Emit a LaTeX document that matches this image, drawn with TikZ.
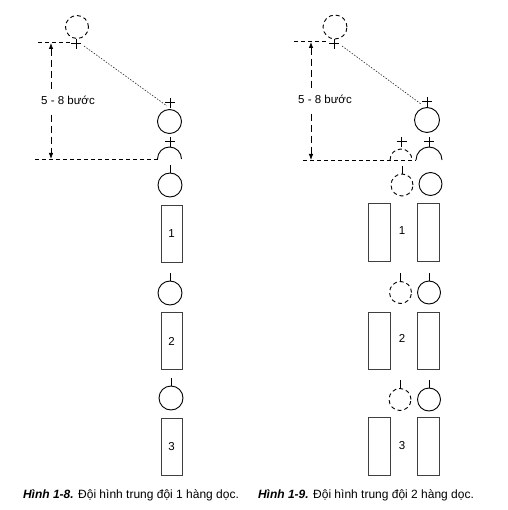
\documentclass[tikz,border=0pt]{standalone}
\usepackage{fontspec}
\setmainfont{Liberation Sans}
\usetikzlibrary{arrows.meta}
\begin{document}
\begin{tikzpicture}[x=1pt,y=-1pt,
  soldier/.style={circle,draw,line width=0.9pt,inner sep=0pt,minimum size=23pt},
  ghost/.style={soldier,dash pattern=on 4pt off 3pt},
  squad/.style={rectangle,draw=black!75,line width=0.8pt,minimum width=21pt,minimum height=57pt,inner sep=0pt,font=\fontsize{11.5}{13}\selectfont},
  guide/.style={line width=0.9pt,dash pattern=on 4pt off 3pt},
  dist/.style={line width=0.8pt,dash pattern=on 7pt off 4pt,{Latex[length=6pt,width=4.5pt]}-{Latex[length=6pt,width=4.5pt]}},
  sight/.style={line width=0.6pt,black!85,dash pattern=on 1.5pt off 1.5pt},
  stem/.style={line width=0.8pt},
  lbl/.style={fill=white,draw=none,inner xsep=1pt,inner ysep=7pt,font=\fontsize{11.5}{13}\selectfont},
  numtext/.style={font=\fontsize{11.5}{13}\selectfont},
  captext/.style={font=\fontsize{12}{14}\selectfont},
  crossm/.pic={\draw[line width=0.8pt] (-5,0)--(5,0) (0,-4)--(0,6);}
]
\useasboundingbox (0,0) rectangle (507,510);

% ---------- Figure 1-8 ----------
\node[ghost,minimum size=23pt] (La) at (77,27) {};
\pic at (76,43) {crossm};
\coordinate (Lga) at (38,42);
\coordinate (Lgb) at (71,42);
\draw[guide] (Lga) -- (Lgb);
\coordinate (Laa) at (51,43);
\coordinate (Lab) at (51,159);
\draw[dist] (Laa) -- (Lab);
\node[lbl] (Ltxt) at (68,100) {5 - 8 bước};
\coordinate (Lsa) at (84,46);
\coordinate (Lsb) at (167,106);
\draw[sight] (Lsa) -- (Lsb);
\node[soldier,minimum size=24pt] (L0) at (169.5,121.5) {};
\pic at (170,102) {crossm};
\pic at (170,141) {crossm};
\draw[line width=0.9pt] (157.5,159) arc[start angle=180,end angle=0,radius=12pt];
\coordinate (Lgc) at (35,159);
\coordinate (Lgd) at (157.5,159);
\draw[guide] (Lgc) -- (Lgd);

\node[soldier,minimum size=24pt] (L1) at (170,185) {};
\draw[stem] (L1.north) -- ++(0,-8);
\node[squad] (Q1) at (171.5,233.5) {1};
\node[soldier,minimum size=24pt] (L2) at (170,293) {};
\draw[stem] (L2.north) -- ++(0,-8);
\node[squad] (Q2) at (171.5,341) {2};
\node[soldier,minimum size=24pt] (L3) at (171,398) {};
\draw[stem] (L3.north) -- ++(0,-8);
\node[squad] (Q3) at (171.5,446.5) {3};

\node[captext] (C1) at (131,495) {\textbf{\textit{Hình 1-8.}} Đội hình trung đội 1 hàng dọc.};

% ---------- Figure 1-9 ----------
\node[ghost,minimum size=24pt] (Ra) at (335,27) {};
\pic at (334,43) {crossm};
\coordinate (Rga) at (294,41);
\coordinate (Rgb) at (329,41);
\draw[guide] (Rga) -- (Rgb);
\coordinate (Raa) at (311,42);
\coordinate (Rab) at (311,160);
\draw[dist] (Raa) -- (Rab);
\node[lbl] (Rtxt) at (325,99) {5 - 8 bước};
\coordinate (Rsa) at (342,46);
\coordinate (Rsb) at (421,104);
\draw[sight] (Rsa) -- (Rsb);
\node[soldier,minimum size=25pt] (R0) at (427,120) {};
\pic at (427,101) {crossm};
\pic at (429,141) {crossm};
\pic at (401.5,141) {crossm};
\draw[line width=0.9pt] (416,160) arc[start angle=180,end angle=0,radius=13pt];
\draw[line width=0.9pt,dash pattern=on 4pt off 3pt] (390,160) arc[start angle=180,end angle=0,radius=11pt];
\coordinate (Rgc) at (303,160);
\coordinate (Rgd) at (416,160);
\draw[guide] (Rgc) -- (Rgd);

% row 1
\node[ghost,minimum size=22pt] (G1) at (402,185) {};
\draw[stem] (G1.north) -- ++(0,-8);
\node[soldier,minimum size=23pt] (S1) at (430.5,184) {};
\node[squad,minimum width=22pt,minimum height=58pt] (A1) at (379.5,232) {};
\node[squad,minimum width=22pt,minimum height=58pt] (B1) at (428,232) {};
\node[numtext] (N1) at (402,231) {1};
% row 2
\node[ghost,minimum size=22pt] (G2) at (400.5,292.5) {};
\draw[stem] (G2.north) -- ++(0,-8);
\node[soldier,minimum size=23pt] (S2) at (429,292.5) {};
\draw[stem] (S2.north) -- ++(0,-8);
\node[squad,minimum width=22pt,minimum height=57pt] (A2) at (379.5,340.5) {};
\node[squad,minimum width=22pt,minimum height=57pt] (B2) at (428,340.5) {};
\node[numtext] (N2) at (402,338) {2};
% row 3
\node[ghost,minimum size=22pt] (G3) at (400,399.5) {};
\draw[stem] (G3.north) -- ++(0,-8);
\node[soldier,minimum size=23pt] (S3) at (429,399.5) {};
\draw[stem] (S3.north) -- ++(0,-8);
\node[squad,minimum width=22pt,minimum height=58pt] (A3) at (379.5,446) {};
\node[squad,minimum width=22pt,minimum height=58pt] (B3) at (428,446) {};
\node[numtext] (N3) at (402,446) {3};

\node[captext] (C2) at (366,495) {\textbf{\textit{Hình 1-9.}} Đội hình trung đội 2 hàng dọc.};
\end{tikzpicture}
\end{document}
